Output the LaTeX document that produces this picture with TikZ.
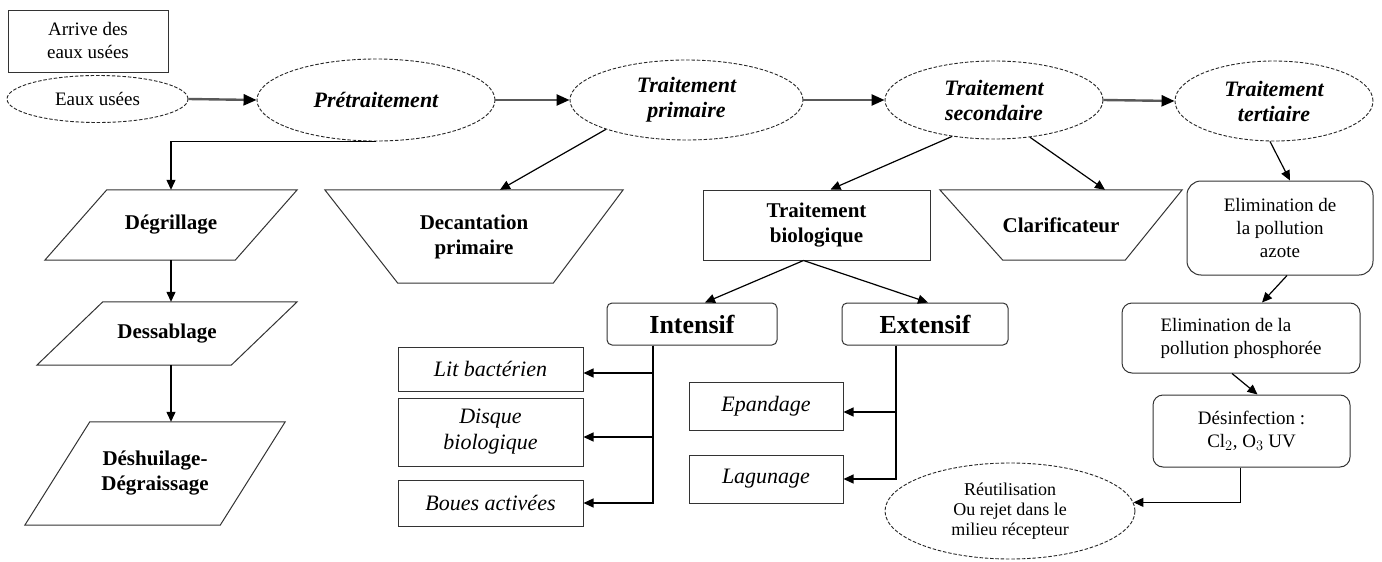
\documentclass[tikz,border=0pt]{standalone}
\usepackage{fontspec}
\setmainfont{Liberation Serif}
\usetikzlibrary{shapes.geometric,arrows.meta,calc}
\begin{document}
\begin{tikzpicture}[x=1pt,y=-1pt,
  every node/.style={align=center,inner sep=0pt},
  fmain/.style={font=\fontsize{21}{25}\selectfont\bfseries},
  fell/.style={font=\fontsize{22}{25}\selectfont\bfseries\itshape},
  fsmall/.style={font=\fontsize{19}{23}\selectfont},
  fital/.style={font=\fontsize{22}{26}\selectfont\itshape},
  fbig/.style={font=\fontsize{26}{28}\selectfont\bfseries},
  ell/.style={ellipse,draw=black!85,line width=0.9pt,dash pattern=on 3.5pt off 1.8pt},
  sbox/.style={rectangle,draw=black!80,line width=1pt},
  rbox/.style={rectangle,draw=black!80,line width=1pt,rounded corners=10pt},
  ghost/.style={rectangle,draw=none},
  outline/.style={draw=black!80,line width=1pt,line join=miter},
  arr/.style={line width=1.2pt,-{Triangle[length=10pt,width=9pt]}},
  marr/.style={line width=2.4pt,draw=black!65,-{Triangle[length=13pt,width=11pt,color=black]}}
]
\useasboundingbox (0,0) rectangle (1382,562);
\fill[white] (0,0) rectangle (1382,562);

% top row
\node[sbox,fsmall,minimum width=160pt,minimum height=62pt] (arrive) at (88,41) {Arrive des\\eaux usées};
\node[ell,fsmall,minimum width=181pt,minimum height=47pt] (eu) at (97.5,99) {Eaux usées};
\node[ell,fell,minimum width=238pt,minimum height=82pt] (pre) at (376,100) {Prétraitement};
\node[ell,fell,minimum width=233pt,minimum height=80pt] (tp) at (686.5,100) {Traitement\\primaire};
\node[ell,fell,minimum width=218pt,minimum height=78pt] (ts) at (994,100) {Traitement\\secondaire};
\node[ell,fell,minimum width=198pt,minimum height=80pt] (tt) at (1274,101) {Traitement\\tertiaire};

\draw[marr] (eu.east) -- (pre.west);
\draw[marr] (pre.east) -- (tp.west);
\draw[marr] (tp.east) -- (ts.west);
\draw[marr] (ts.east) -- (tt.west);

% pretraitement column
\node[ghost,fmain,minimum width=252pt,minimum height=70pt] (degr) at (171,225) {Dégrillage};
\draw[outline] ([xshift=62pt]degr.north west) -- (degr.north east) -- ([xshift=-62pt]degr.south east) -- (degr.south west) -- cycle;
\node[ghost,fmain,minimum width=260pt,minimum height=63pt] (dess) at (167,333.5) {Dessablage};
\draw[outline] ([xshift=66pt]dess.north west) -- (dess.north east) -- ([xshift=-66pt]dess.south east) -- (dess.south west) -- cycle;
\node[ghost,fmain,minimum width=260pt,minimum height=103pt] (desh) at (155,473.5) {Déshuilage-\\Dégraissage};
\draw[outline] ([xshift=65pt]desh.north west) -- (desh.north east) -- ([xshift=-65pt]desh.south east) -- (desh.south west) -- cycle;

\draw[arr] (pre.south) -| (degr.north);
\draw[arr] (degr.south) -- (degr.south |- dess.north);
\draw[arr] (degr.south |- dess.south) -- (degr.south |- desh.north);

% primaire
\node[ghost,fmain,minimum width=298pt,minimum height=93pt] (dec) at (474,236.5) {Decantation\\primaire};
\draw[outline] (dec.north west) -- (dec.north east) -- ([xshift=-70pt]dec.south east) -- ([xshift=73pt]dec.south west) -- cycle;
\draw[arr] (tp.200) -- ([xshift=26pt]dec.north);

% secondaire
\node[sbox,fmain,minimum width=227pt,minimum height=70pt] (tb) at (816.5,225) {Traitement\\biologique};
\node[ghost,fmain,minimum width=242pt,minimum height=70pt] (cla) at (1061,225) {Clarificateur};
\draw[outline] (cla.north west) -- (cla.north east) -- ([xshift=-57pt]cla.south east) -- ([xshift=63pt]cla.south west) -- cycle;
\draw[arr] (ts.221) -- ([xshift=14pt]tb.north);
\draw[arr] (ts.314) -- ([xshift=44pt]cla.north);

\node[rbox,rounded corners=5pt,fbig,minimum width=170pt,minimum height=42pt] (int) at (692,324) {Intensif};
\node[rbox,rounded corners=5pt,fbig,minimum width=166pt,minimum height=42pt] (ext) at (925,324) {Extensif};
\draw[arr] ([xshift=-13pt]tb.south) -- ([xshift=13pt]int.north);
\draw[arr] ([xshift=-13pt]tb.south) -- ([xshift=3pt]ext.north);

\node[sbox,fital,minimum width=185pt,minimum height=44pt] (lit) at (490.5,369) {Lit bactérien};
\node[sbox,fital,minimum width=185pt,minimum height=68pt] (disq) at (490.5,432) {Disque\\biologique};
\node[sbox,fital,minimum width=185pt,minimum height=46pt] (boues) at (490.5,503) {Boues activées};
\coordinate (ib) at ([xshift=-39pt]int.south);
\draw[arr] (ib) |- ([yshift=-4pt]lit.east);
\draw[arr] (ib) |- ([yshift=-5pt]disq.east);
\draw[arr] (ib) |- (boues.east);

\node[sbox,fital,minimum width=154pt,minimum height=48pt] (epa) at (766,406) {Epandage};
\node[sbox,fital,minimum width=154pt,minimum height=48pt] (lag) at (766,479) {Lagunage};
\coordinate (eb) at ([xshift=-29pt]ext.south);
\draw[arr] (eb) |- ([yshift=-6pt]epa.east);
\draw[arr] (eb) |- (lag.east);

% tertiaire
\node[rbox,rounded corners=14pt,fsmall,minimum width=186pt,minimum height=94pt] (azo) at (1280,228) {Elimination de\\la pollution\\azote};
\node[rbox,fsmall,minimum width=238pt,minimum height=70pt,align=left] (phos) at (1241,338) {Elimination de la\\pollution phosphorée};
\node[rbox,fsmall,minimum width=197pt,minimum height=72pt] (desi) at (1251.5,431) {Désinfection :\\Cl$_2$, O$_3$ UV};
\node[ell,font=\fontsize{18}{20}\selectfont,minimum width=250pt,minimum height=96pt] (reu) at (1010,511) {Réutilisation\\Ou rejet dans le\\milieu récepteur};

\draw[arr] ([xshift=-4pt]tt.south) -- ([xshift=10pt]azo.north);
\draw[arr] ([xshift=7pt]azo.south) -- ([xshift=21pt]phos.north);
\draw[arr] ([xshift=-9pt]phos.south) -- ([xshift=6pt]desi.north);
\draw[arr] ([xshift=-11pt]desi.south) |- (reu.4.5);
\end{tikzpicture}
\end{document}
